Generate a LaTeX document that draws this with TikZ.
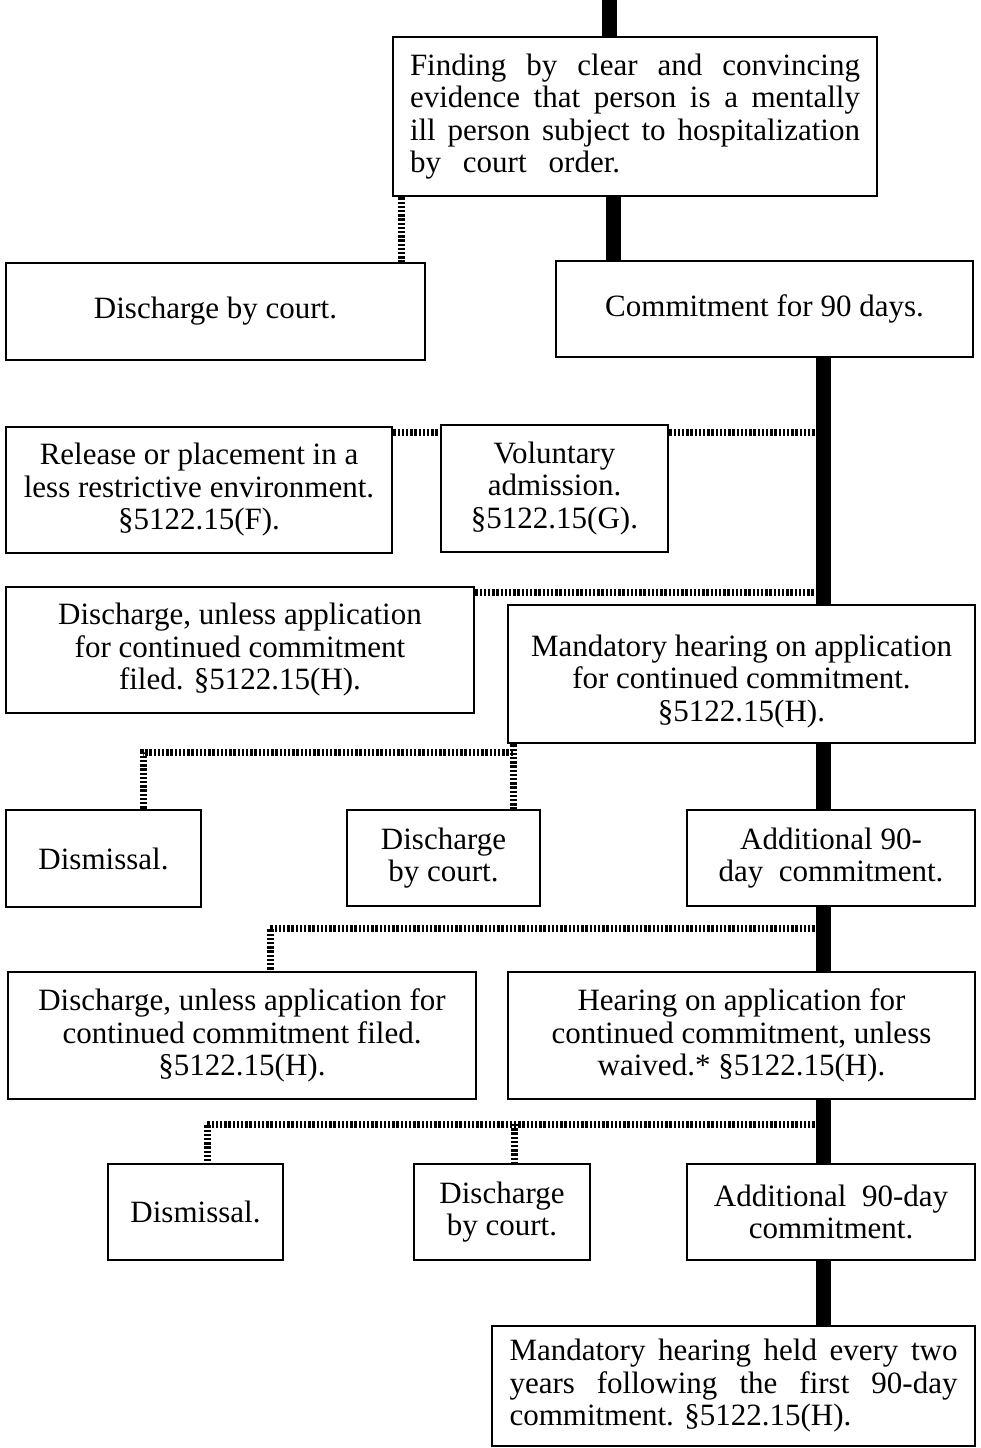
\documentclass[tikz,border=0pt]{standalone}
\usepackage{fontspec}
\setmainfont{Liberation Serif}
\begin{document}
\begin{tikzpicture}[x=1pt,y=-1pt,
  box/.style={draw=black,line width=2.6pt,inner sep=0pt,align=center,
    font=\fontsize{31}{32.5}\selectfont},
  bar/.style={line width=15pt,black},
  dots/.style={line width=7pt,black,dash pattern=on 2.4pt off 1.8pt}]
\useasboundingbox[fill=white] (0,0) rectangle (980,1448);
% boxes
\node[box,minimum width=484pt,minimum height=159pt] (find) at (635,116.5)
  {\parbox{450pt}{\makebox[450pt][s]{Finding by clear and convincing}\\
   \makebox[450pt][s]{evidence that person is a mentally}\\
   \makebox[450pt][s]{ill person subject to hospitalization}\\
   by\hspace{22pt}court\hspace{22pt}order.}};
\node[box,minimum width=419pt,minimum height=97pt] (dc1) at (215.5,311.5) {Discharge by court.};
\node[box,minimum width=417pt,minimum height=96pt] (c90) at (764.5,309) {Commitment for 90 days.};
\node[box,minimum width=386pt,minimum height=126pt] (rel) at (199,490)
  {Release or placement in a\\less restrictive environment.\\§5122.15(F).};
\node[box,minimum width=227pt,minimum height=127pt] (vol) at (554.5,488.5)
  {Voluntary\\admission.\\§5122.15(G).};
\node[box,minimum width=468pt,minimum height=126pt] (dis1) at (240,650)
  {Discharge, unless application\\for continued commitment\\filed. §5122.15(H).};
\node[box,minimum width=467pt,minimum height=138pt] (mh1) at (741.5,674)
  {\rule{0pt}{36pt}Mandatory hearing on application\\for continued commitment.\\§5122.15(H).};
\node[box,minimum width=195pt,minimum height=97pt] (dism1) at (103.5,858.5) {Dismissal.};
\node[box,minimum width=193pt,minimum height=96pt] (dcb1) at (443.5,858) {Discharge\\by court.};
\node[box,minimum width=288pt,minimum height=96pt] (add1) at (831,858) {Additional 90-\\day\ \ commitment.};
\node[box,minimum width=468pt,minimum height=127pt] (dis2) at (242,1035.5)
  {Discharge, unless application for\\continued commitment filed.\\§5122.15(H).};
\node[box,minimum width=467pt,minimum height=127pt] (hear) at (741.5,1035.5)
  {Hearing on application for\\continued commitment, unless\\waived.* §5122.15(H).};
\node[box,minimum width=175pt,minimum height=96pt] (dism2) at (195.5,1212) {Dismissal.};
\node[box,minimum width=176pt,minimum height=96pt] (dcb2) at (502,1212) {Discharge\\by court.};
\node[box,minimum width=288pt,minimum height=96pt] (add2) at (831,1212) {Additional\ \ 90-day\\commitment.};
\node[box,minimum width=483pt,minimum height=120pt] (fin) at (733.5,1386)
  {\parbox{448pt}{\makebox[448pt][s]{Mandatory hearing held every two}\\
   \makebox[448pt][s]{years following the first 90-day}\\
   commitment. §5122.15(H).}};
% helper coordinates
\coordinate (xt) at (609,0);
\coordinate (xa) at (613,0);
\coordinate (xb) at (823,0);
\coordinate (xd1) at (401,0);
\coordinate (xd2) at (513,0);
\coordinate (xd3) at (143,0);
\coordinate (xd4) at (270,0);
\coordinate (xd5) at (207,0);
\coordinate (xd6) at (514,0);
\coordinate (ya) at (0,432);
\coordinate (yb) at (0,592);
\coordinate (yc) at (0,752);
\coordinate (yd) at (0,928);
\coordinate (ye) at (0,1124);
% dotted connectors
\draw[dots] (find.south -| xd1) -- (dc1.north -| xd1);
\draw[dots] (rel.east |- ya) -- (vol.west |- ya);
\draw[dots] (vol.east |- ya) -- (xb |- ya);
\draw[dots] (dis1.east |- yb) -- (xb |- yb);
\draw[dots] (mh1.south -| xd2) -- (dcb1.north -| xd2);
\draw[dots] (xd2 |- yc) -- (xd3 |- yc) -- (dism1.north -| xd3);
\draw[dots] (xb |- yd) -- (xd4 |- yd) -- (dis2.north -| xd4);
\draw[dots] (xb |- ye) -- (xd5 |- ye) -- (dism2.north -| xd5);
\draw[dots] (xd6 |- ye) -- (dcb2.north -| xd6);
% solid bars
\draw[bar] (xt) -- (xt |- find.north);
\draw[bar] (find.south -| xa) -- (c90.north -| xa);
\draw[bar] (c90.south -| xb) -- (mh1.north -| xb);
\draw[bar] (mh1.south -| xb) -- (add1.north -| xb);
\draw[bar] (add1.south -| xb) -- (hear.north -| xb);
\draw[bar] (hear.south -| xb) -- (add2.north -| xb);
\draw[bar] (add2.south -| xb) -- (fin.north -| xb);
\end{tikzpicture}
\end{document}
